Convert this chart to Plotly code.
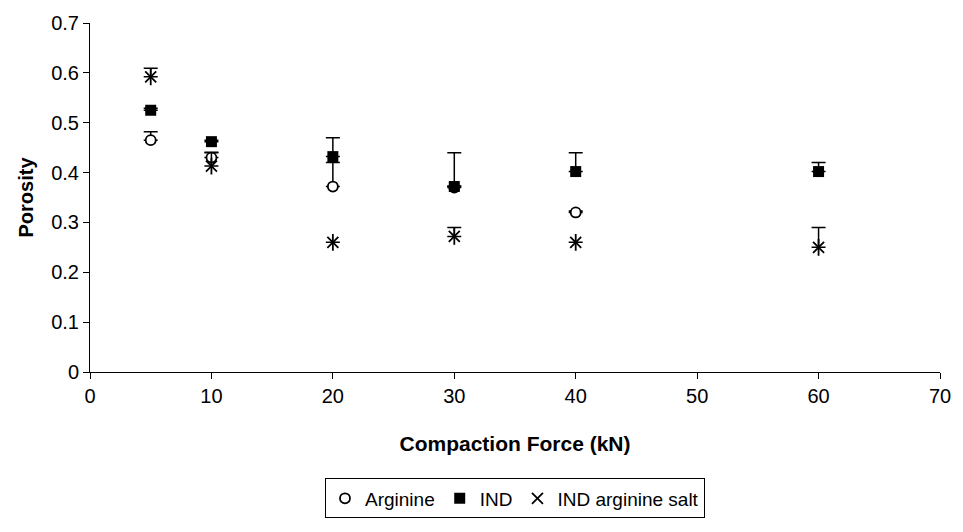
import plotly.graph_objects as go

force = [5, 10, 20, 30, 40, 60]
arginine = [0.465, 0.43, 0.372, 0.37, 0.32, None]
arginine_err = [0.017, 0.01, 0.048, 0.003, 0.003, None]
ind = [0.525, 0.462, 0.432, 0.372, 0.402, 0.402]
ind_err = [0.004, 0.003, 0.038, 0.068, 0.038, 0.018]
salt = [0.592, 0.413, 0.26, 0.272, 0.26, 0.25]
salt_err = [0.017, 0.028, 0.0, 0.018, 0.0, 0.04]

zeros = [0] * len(force)

def eb(vals):
    return dict(type="data", array=vals, arrayminus=zeros, symmetric=False,
                color="black", thickness=1.5, width=7, visible=True)

fig = go.Figure()
fig.add_trace(go.Scatter(
    x=force, y=arginine, mode="markers", name="Arginine",
    marker=dict(symbol="circle", size=10, color="white", line=dict(width=1.8, color="black")),
    error_y=eb(arginine_err)))
fig.add_trace(go.Scatter(
    x=force, y=ind, mode="markers", name="IND",
    marker=dict(symbol="square", size=11, color="black", line=dict(width=0)),
    error_y=eb(ind_err)))
fig.add_trace(go.Scatter(
    x=force, y=salt, mode="markers", name="IND arginine salt", legendgroup="salt",
    marker=dict(symbol="x-thin-open", size=11, color="black", line=dict(width=1.8, color="black")),
    error_y=eb(salt_err)))
fig.add_trace(go.Scatter(
    x=force, y=salt, mode="markers", name="IND arginine salt", legendgroup="salt", showlegend=False,
    marker=dict(symbol="line-ns-open", size=12, color="black", line=dict(width=1.8, color="black"))))

fig.update_layout(
    width=963, height=532,
    margin=dict(l=90, r=16, t=20, b=160),
    paper_bgcolor="white", plot_bgcolor="white",
    font=dict(family="Liberation Sans, Arial, sans-serif", size=20, color="black"),
    showlegend=True,
    legend=dict(orientation="h", x=0.5, xanchor="center", y=-0.305, yanchor="top",
                bordercolor="black", borderwidth=1, font=dict(size=19),
                itemwidth=30, tracegroupgap=0),
    xaxis=dict(range=[0, 70], tickvals=[0, 10, 20, 30, 40, 50, 60, 70], showgrid=False, zeroline=False,
               showline=True, linecolor="black", linewidth=1, ticks="outside", ticklen=6,
               tickcolor="black", tickfont=dict(size=20),
               title=dict(text="<b>Compaction Force (kN)</b>", font=dict(size=21), standoff=30)),
    yaxis=dict(range=[0, 0.7], tickvals=[0, 0.1, 0.2, 0.3, 0.4, 0.5, 0.6, 0.7],
               ticktext=["0", "0.1", "0.2", "0.3", "0.4", "0.5", "0.6", "0.7"],
               showgrid=False, zeroline=False,
               showline=True, linecolor="black", linewidth=1, ticks="outside", ticklen=6,
               tickcolor="black", tickfont=dict(size=20),
               title=dict(text="<b>Porosity</b>", font=dict(size=20), standoff=12)),
)

fig.write_html("out.html")
